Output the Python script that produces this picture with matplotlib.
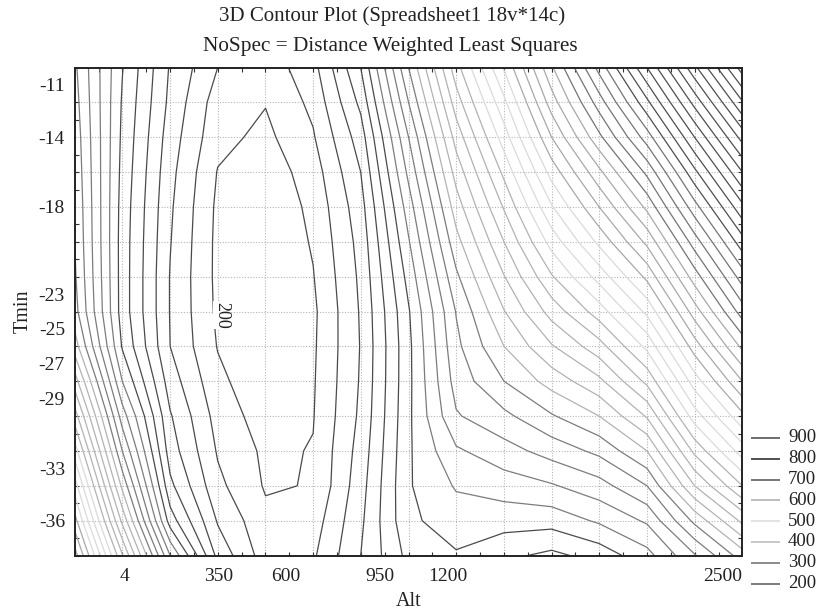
import matplotlib
matplotlib.use("Agg")
import matplotlib.pyplot as plt
from matplotlib.lines import Line2D
import numpy as np

plt.rcParams["font.family"] = ["Liberation Serif", "DejaVu Serif"]

# grid nodes of the fitted surface (Alt along columns, Tmin along rows)
alt_nodes = [-181, -5, 172, 348, 525, 701, 877, 1054, 1230, 1407, 1583, 1759, 1936, 2112, 2289]
tmin_nodes = [-10, -12, -14, -16, -18, -20, -22, -24, -26, -28, -30, -32, -34, -36, -38]

# NoSpec values, one row per Tmin node
nospec = [
    [404, 321, 258, 220, 208, 233, 300, 420, 532, 622, 717, 807, 900, 995, 1090],
    [408, 318, 255, 210, 201, 225, 285, 400, 510, 595, 690, 770, 855, 947, 1038],
    [412, 316, 250, 206, 195, 218, 270, 380, 488, 570, 660, 735, 810, 900, 988],
    [415, 314, 246, 199, 188, 210, 260, 365, 468, 545, 628, 695, 765, 855, 940],
    [418, 312, 243, 196, 184, 205, 252, 350, 450, 522, 598, 660, 725, 812, 895],
    [420, 311, 241, 195, 182, 202, 247, 338, 433, 500, 568, 625, 685, 770, 852],
    [423, 311, 239, 195, 181, 199, 244, 327, 416, 479, 538, 588, 645, 730, 810],
    [428, 311, 239, 196, 181, 196, 242, 318, 401, 459, 508, 550, 605, 690, 770],
    [450, 318, 240, 199, 182, 197, 241, 315, 395, 440, 478, 512, 565, 650, 725],
    [490, 340, 250, 205, 185, 198, 242, 315, 388, 420, 448, 475, 525, 610, 680],
    [530, 370, 262, 212, 190, 199, 244, 316, 378, 395, 418, 440, 482, 570, 635],
    [570, 400, 270, 218, 196, 201, 248, 317, 357, 372, 388, 405, 440, 525, 590],
    [610, 435, 285, 225, 198, 201, 252, 318, 342, 350, 358, 372, 400, 480, 540],
    [648, 475, 310, 238, 205, 210, 256, 316, 330, 328, 328, 343, 363, 425, 485],
    [690, 522, 360, 254, 210, 217, 260, 306, 318, 305, 295, 308, 333, 378, 430],
]

x_tick_values = [4, 350, 600, 950, 1200]
x_tick_labels = ["4", "350", "600", "950", "1200"]
y_tick_values = [-11, -14, -18, -23, -25, -27, -29, -33, -36]
legend_values = [900, 800, 700, 600, 500, 400, 300, 200]

X_MIN, X_MAX = -181, 2289
Y_MIN, Y_MAX = -38, -10
STEP_X = (X_MAX - X_MIN) / 28
LEVELS = np.arange(200, 1200, 20)
INK = "#222222"
W, H = 821, 614


def level_color(v):
    if v < 340:
        return "#4a4a4a"
    if v < 440:
        return "#7c7c7c"
    if v < 560:
        return "#b2b2b2"
    if v < 640:
        return "#dadada"
    if v < 740:
        return "#a8a8a8"
    if v < 840:
        return "#747474"
    return "#4e4e4e"


legend_colors = {900: "#6e6e6e", 800: "#505050", 700: "#777777", 600: "#bdbdbd",
                 500: "#e2e2e2", 400: "#c8c8c8", 300: "#8a8a8a", 200: "#7c7c7c"}

fig = plt.figure(figsize=(W / 100, H / 100), dpi=100)
ax = fig.add_axes([74.7 / W, 1 - 555.5 / H, 667.7 / W, 488 / H])

X, Y = np.meshgrid(alt_nodes, tmin_nodes)
Z = np.array(nospec, dtype=float)

# dotted grid at every second tick
for gx in np.linspace(X_MIN, X_MAX, 15)[1:-1]:
    ax.axvline(gx, color="#b5b5b5", linestyle=(0, (1, 1.5)), linewidth=0.8, zorder=0)
for gy in np.arange(-12, -37, -2):
    ax.axhline(gy, color="#b5b5b5", linestyle=(0, (1, 1.5)), linewidth=0.8, zorder=0)

ax.contour(X, Y, Z, levels=LEVELS, colors=[level_color(v) for v in LEVELS],
           linewidths=0.9, zorder=2)

ax.text(364, -24.2, "200", rotation=-90, ha="center", va="center", fontsize=13,
        color=INK, zorder=3,
        bbox=dict(facecolor="white", edgecolor="none", pad=0.5))

ax.set_xlim(X_MIN, X_MAX)
ax.set_ylim(Y_MIN, Y_MAX)

ax.set_xticks(x_tick_values + [X_MAX])
ax.set_xticklabels(x_tick_labels + ["2500"])
ax.get_xticklabels()[-1].set_horizontalalignment("right")
ax.set_yticks(y_tick_values)
ax.set_yticklabels([str(v) for v in y_tick_values])
ax.set_xticks(np.arange(X_MIN, X_MAX + 1, STEP_X), minor=True)
ax.set_yticks(np.arange(-38, -9, 1), minor=True)
ax.tick_params(which="major", length=0, labelsize=14, colors=INK)
ax.tick_params(axis="x", which="major", pad=9)
ax.tick_params(axis="y", which="major", pad=7)
ax.tick_params(which="minor", direction="in", length=3, width=0.8,
               top=True, right=True, color="#333333")

for s in ax.spines.values():
    s.set_linewidth(1.4)
    s.set_color(INK)

ax.set_xlabel("Alt", fontsize=14.5, labelpad=5, color=INK)
ax.set_ylabel("Tmin", fontsize=14.5, labelpad=4, color=INK)

fig.text(392 / W, 0.974, "3D Contour Plot (Spreadsheet1 18v*14c)", ha="center",
         va="center", fontsize=15, color=INK)
fig.text(390 / W, 0.925, "NoSpec = Distance Weighted Least Squares", ha="center",
         va="center", fontsize=15.3, color=INK)

# legend: short line samples with the level values, stacked right of the plot
for i, v in enumerate(legend_values):
    yf = 1 - (438 + i * 20.8) / H
    fig.add_artist(Line2D([752 / W, 779 / W], [yf, yf], transform=fig.transFigure,
                          color=legend_colors[v], linewidth=1.4))
    fig.text(788 / W, yf, str(v), ha="left", va="center", fontsize=13.5, color=INK)

fig.savefig("out.png", dpi=100)
